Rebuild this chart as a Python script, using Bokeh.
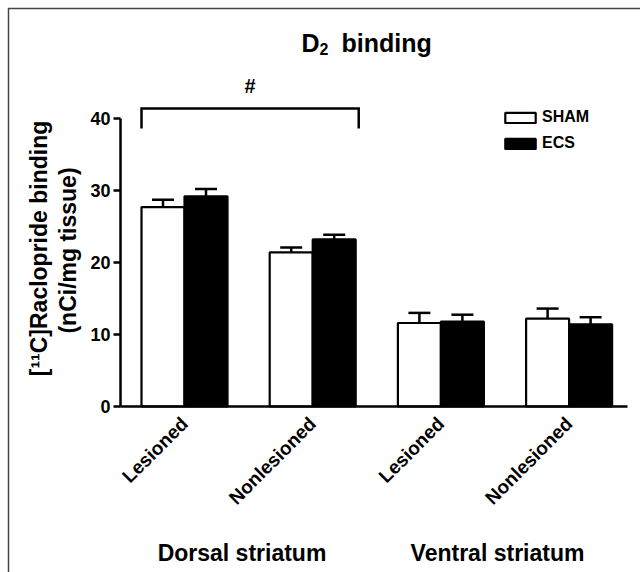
import math
from bokeh.plotting import figure
from bokeh.models import (ColumnDataSource, FixedTicker, Label, Legend, LegendItem,
                          Whisker, TeeHead)
from bokeh.embed import file_html
from bokeh.resources import INLINE

# ---------------- data ----------------
regions = ["Dorsal striatum", "Ventral striatum"]
conditions = ["Lesioned", "Nonlesioned", "Lesioned", "Nonlesioned"]
series = ["SHAM", "ECS"]
sham_mean = [27.7, 21.4, 11.6, 12.2]
sham_sem = [1.0, 0.7, 1.4, 1.4]
ecs_mean = [29.2, 23.2, 11.8, 11.4]
ecs_sem = [1.0, 0.65, 0.95, 1.0]
y_ticks = [0, 10, 20, 30, 40]
y_label_lines = ["[\u00b9\u00b9C]Raclopride binding", "(nCi/mg tissue)"]
significance = "#"
bracket_groups = [1, 2]

FONT = "Liberation Sans"

# ---------------- geometry (pixel layout of the panel) ----------------
W, H = 640, 572
AX_L, AX_R = 120, 627      # x-axis line extent (px)
X0, XS = 184.0, 128.2      # px of group 1 centre, px per group
Y0, YS = 406.0, 7.2        # px of y=0, px per unit


def dx(px):
    return 1 + (px - X0) / XS


def dy(py):
    return (Y0 - py) / YS


bar_w = 43 / XS
groups = list(range(1, len(conditions) + 1))

src = ColumnDataSource(dict(
    xs=[g - bar_w / 2 for g in groups],
    xe=[g + bar_w / 2 for g in groups],
    sham=sham_mean,
    ecs=ecs_mean,
    sham_hi=[m + e for m, e in zip(sham_mean, sham_sem)],
    ecs_hi=[m + e for m, e in zip(ecs_mean, ecs_sem)],
))

p = figure(width=W, height=H,
           x_range=(dx(0), dx(W)), y_range=(dy(H), dy(0)),
           min_border=0, output_backend="svg", toolbar_location=None)
p.outline_line_color = None
p.xgrid.visible = False
p.ygrid.visible = False
p.background_fill_color = "white"
p.border_fill_color = "white"

# panel border (left and top edges)
p.line(x=[dx(8), dx(8), dx(W + 20)], y=[dy(H + 20), dy(8), dy(8)],
       line_color="#444444", line_width=1.5, line_join="miter")

# axes (drawn inside the frame at fixed data locations)
xa = p.xaxis[0]
xa.fixed_location = 0
xa.bounds = (dx(AX_L), dx(AX_R))
xa.ticker = FixedTicker(ticks=groups)
xa.major_label_overrides = {g: c for g, c in zip(groups, conditions)}
xa.major_label_orientation = math.pi / 4
xa.major_tick_line_color = None
xa.minor_tick_line_color = None
xa.axis_line_width = 2.5
xa.axis_line_color = "black"
xa.major_label_text_font = FONT
xa.major_label_text_font_style = "bold"
xa.major_label_text_font_size = "19px"
xa.major_label_text_color = "black"
xa.major_label_standoff = 8

ya = p.yaxis[0]
ya.fixed_location = dx(AX_L)
ya.ticker = FixedTicker(ticks=y_ticks)
ya.bounds = (y_ticks[0], y_ticks[-1])
ya.major_tick_out = 7
ya.major_tick_in = 0
ya.minor_tick_line_color = None
ya.axis_line_width = 2.5
ya.major_tick_line_width = 2.5
ya.axis_line_color = "black"
ya.major_tick_line_color = "black"
ya.major_label_text_font = FONT
ya.major_label_text_font_style = "bold"
ya.major_label_text_font_size = "18px"
ya.major_label_text_color = "black"
ya.major_label_standoff = 3

# error bars (upper only)
for base, lo, hi in (("xs", "sham", "sham_hi"), ("xe", "ecs", "ecs_hi")):
    wk = Whisker(source=src, base=base, lower=lo, upper=hi, dimension="height",
                 line_width=2.5, line_color="black",
                 upper_head=TeeHead(size=22, line_width=2.5, line_color="black"),
                 lower_head=None)
    p.add_layout(wk)

# bars
r_sham = p.vbar(x="xs", top="sham", bottom=0, width=bar_w, source=src,
                fill_color="white", line_color="black", line_width=2.2)
r_ecs = p.vbar(x="xe", top="ecs", bottom=0, width=bar_w, source=src,
               fill_color="black", line_color="black", line_width=2.2)

# significance bracket
bl = bracket_groups[0] - bar_w
br = bracket_groups[1] + bar_w * 1.07
p.line(x=[bl, bl, br, br], y=[dy(128), dy(108), dy(108), dy(128)],
       line_width=2.5, line_color="black", line_join="miter")
p.add_layout(Label(x=(bl + br) / 2, y=dy(85), text=significance, text_align="center",
                   text_baseline="middle", text_font=FONT, text_font_style="bold",
                   text_font_size="20px", text_color="black"))

# legend (location relative to frame bottom-left)
legend = Legend(items=[LegendItem(label=series[0], renderers=[r_sham]),
                       LegendItem(label=series[1], renderers=[r_ecs])],
                location=(501, H - 152), glyph_width=38, glyph_height=13,
                label_text_font=FONT, label_text_font_style="bold",
                label_text_font_size="16px", label_text_color="black",
                label_standoff=3, label_height=13, spacing=8,
                padding=0, margin=0, border_line_color=None,
                background_fill_alpha=0)
p.add_layout(legend)

# title with subscript
title_kw = dict(text_font=FONT, text_font_style="bold", text_color="black",
                text_baseline="alphabetic", text_align="left")
p.add_layout(Label(x=dx(301), y=dy(42), text="D", text_font_size="25px", **title_kw))
p.add_layout(Label(x=dx(319), y=dy(48), text="2", text_font_size="16px", **title_kw))
p.add_layout(Label(x=dx(341), y=dy(42), text="binding", text_font_size="25px", **title_kw))

# y axis title (two lines)
ylab_kw = dict(text_font=FONT, text_font_style="bold", text_color="black",
               text_font_size="23px", text_align="center", text_baseline="middle",
               angle=math.pi / 2)
p.add_layout(Label(x=dx(38), y=dy(248), text=y_label_lines[0], **ylab_kw))
p.add_layout(Label(x=dx(67), y=dy(250), text=y_label_lines[1], **ylab_kw))

# region labels
reg_kw = dict(text_font=FONT, text_font_style="bold", text_color="black",
              text_font_size="23px", text_align="center", text_baseline="middle")
for name, cpx in zip(regions, (241.5, 497.0)):
    p.add_layout(Label(x=dx(cpx), y=dy(552), text=name, **reg_kw))

open("out.html", "w").write(file_html(p, INLINE))
